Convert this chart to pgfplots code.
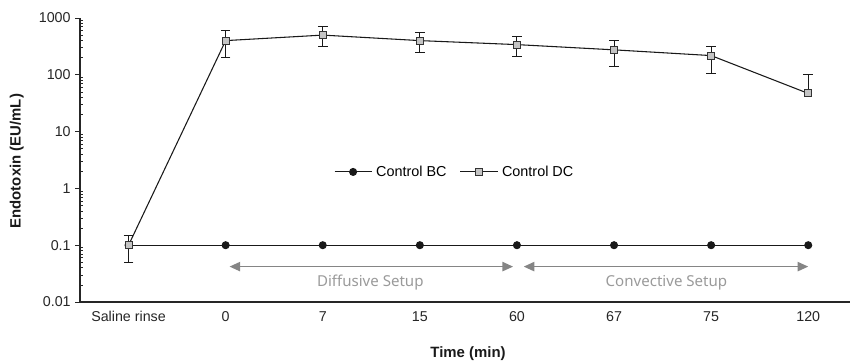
\documentclass[border=0pt]{standalone}
\usepackage{pgfplots}
\pgfplotsset{compat=1.18}
\usepackage{pgfplotstable}
\usepackage{fontspec}
\setmainfont{Liberation Sans}
\newfontfamily\notefont{Noto Sans}
\usetikzlibrary{arrows.meta}
\definecolor{sqfill}{HTML}{C4C4C4}
\definecolor{arrgray}{HTML}{858585}
\definecolor{txtgray}{HTML}{9A9A9A}
\pgfplotstableread{
x y ep em
0 0.1 0.05 0.05
1 400 200 200
2 500 200 180
3 400 150 150
4 340 140 130
5 275 125 135
6 218 98 113
}\dcerr
\pgfplotstableread{
x y
0 0.1
1 400
2 500
3 400
4 340
5 275
6 218
7 47
}\dc
\pgfplotstableread{
x y
0 0.1
1 0.1
2 0.1
3 0.1
4 0.1
5 0.1
6 0.1
7 0.1
}\bc
\begin{document}
\begin{tikzpicture}
\begin{axis}[
  at={(0,0)}, anchor=south west,
  scale only axis, width=577.5pt, height=213pt,
  ymode=log, ymin=0.01, ymax=1000,
  xmin=-0.5, xmax=7.43,
  axis x line*=bottom, axis y line*=left,
  axis line style={line width=0.8pt, draw=black!85},
  xtick={0,...,7},
  xticklabels={Saline rinse,0,7,15,60,67,75,120},
  x tick style={draw=none},
  extra x ticks={0.5,1.5,...,6.5},
  extra x tick labels={},
  extra x tick style={tick style={draw=black!85, line width=0.8pt}, major tick length=3.5pt},
  ytick={0.01,0.1,1,10,100,1000},
  yticklabels={0.01,0.1,1,10,100,1000},
  minor ytick={0.02,0.03,0.04,0.05,0.06,0.07,0.08,0.09,0.2,0.3,0.4,0.5,0.6,0.7,0.8,0.9,2,3,4,5,6,7,8,9,20,30,40,50,60,70,80,90,200,300,400,500,600,700,800,900},
  tick align=outside,
  y tick style={line width=0.7pt, draw=black!85},
  minor y tick style={xshift=2pt, line width=0.6pt},
  major tick length=3.5pt, minor tick length=2pt,
  ticklabel style={font=\fontsize{10.7}{12}\selectfont, text=black!85},
  xlabel={Time (min)}, ylabel={Endotoxin (EU/mL)},
  label style={font=\fontsize{11.2}{13}\selectfont\bfseries, text=black!90},
  xlabel style={at={(axis description cs:0.504,-0.183)}, anchor=center},
  ylabel style={at={(axis description cs:-0.082,0.496)}, anchor=center},
  legend columns=2,
  legend style={draw=none, fill=none, at={(axis description cs:0.487,0.458)}, anchor=center,
    font=\fontsize{10.8}{12}\selectfont, /tikz/every even column/.append style={column sep=8pt},
    /tikz/every odd column/.append style={column sep=1pt}},
  legend image code/.code={\draw[mark repeat=2,mark phase=2,#1] plot coordinates {(0pt,0pt) (13.9pt,0pt) (27.8pt,0pt)};},
  legend cell align=left,
  clip=false,
]
\addplot[black!90, line width=0.8pt, mark=*, mark size=2.6pt, mark options={fill=black!90, draw=black!90}] table[x=x,y=y]{\bc};
\addlegendentry{Control BC}
\addplot[draw=none, mark=none, forget plot, error bars/.cd, y dir=both, y explicit,
  error bar style={line width=0.8pt, black!90}, error mark options={rotate=90, line width=0.8pt, black!90, mark size=3.6pt}]
  table[x=x,y=y,y error plus=ep,y error minus=em]{\dcerr};
\addplot[draw=none, mark=none, forget plot, error bars/.cd, y dir=plus, y explicit,
  error bar style={line width=0.8pt, black!90}, error mark options={rotate=90, line width=0.8pt, black!90, mark size=3.6pt}]
  coordinates {(7,47) +- (0,53)};
\addplot[black!90, line width=0.8pt, mark=square*, mark size=2.6pt, mark options={fill=sqfill, draw=black!80, line width=0.7pt}] table[x=x,y=y]{\dc};
\addlegendentry{Control DC}
\draw[arrgray, line width=1.1pt, {Triangle[length=8pt,width=7pt]}-{Triangle[length=8pt,width=7pt]}] (axis cs:1.04,0.042) -- (axis cs:3.96,0.042);
\draw[arrgray, line width=1.1pt, {Triangle[length=8pt,width=7pt]}-{Triangle[length=8pt,width=7pt]}] (axis cs:4.07,0.042) -- (axis cs:7.0,0.042);
\node[text=txtgray, font=\notefont\fontsize{11.3}{13}\selectfont] at (axis cs:2.49,0.022) {Diffusive Setup};
\node[text=txtgray, font=\notefont\fontsize{11.3}{13}\selectfont] at (axis cs:5.54,0.022) {Convective Setup};
\end{axis}
\pgfresetboundingbox
\path (-60pt,-45pt) rectangle (577.5pt,226.5pt);
\end{tikzpicture}
\end{document}
